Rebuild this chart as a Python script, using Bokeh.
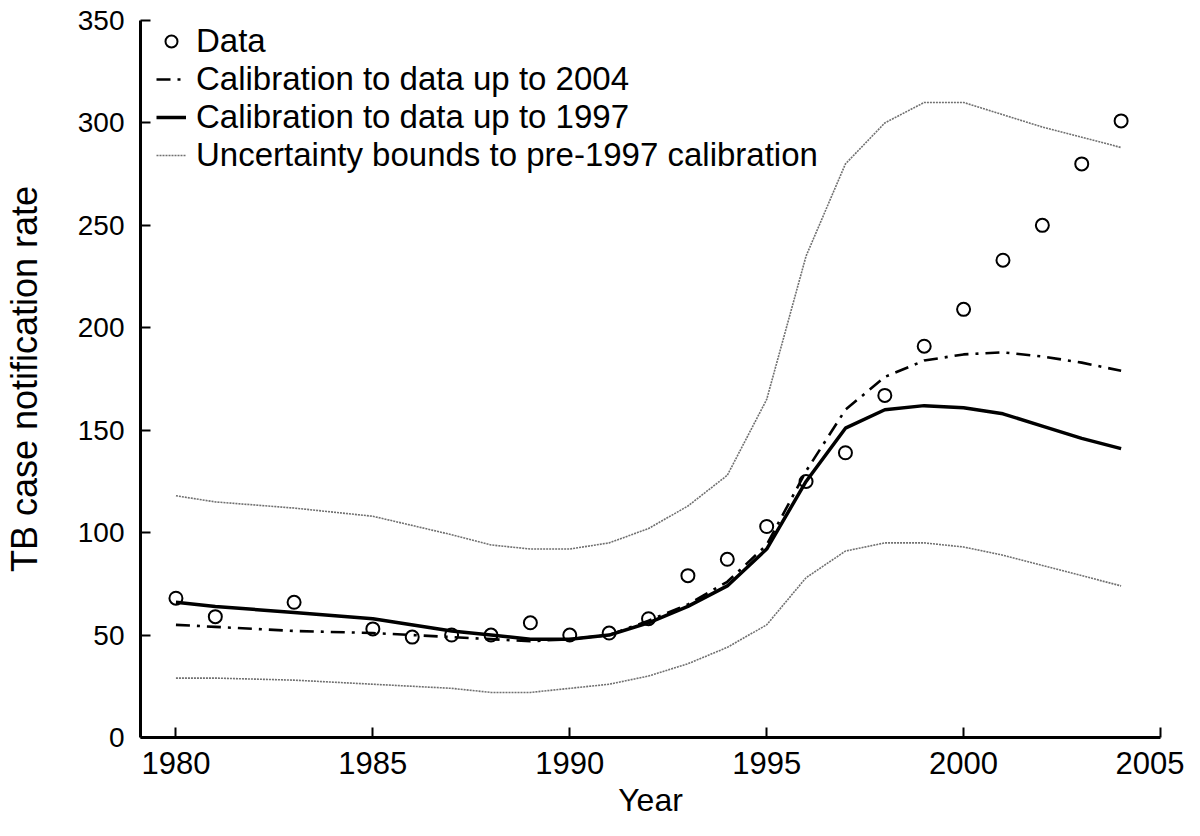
from bokeh.plotting import figure
from bokeh.models import Range1d, Legend, LegendItem, FixedTicker
from bokeh.embed import file_html
from bokeh.resources import INLINE

data_years = [1980, 1981, 1983, 1985, 1986, 1987, 1988, 1989, 1990, 1991, 1992, 1993,
              1994, 1995, 1996, 1997, 1998, 1999, 2000, 2001, 2002, 2003, 2004]
data_values = [68, 59, 66, 53, 49, 50, 50, 56, 50, 51, 58, 79,
               87, 103, 125, 139, 167, 191, 209, 233, 250, 280, 301]

model_years = [1980, 1981, 1983, 1985, 1987, 1988, 1989, 1990, 1991, 1992, 1993,
               1994, 1995, 1996, 1997, 1998, 1999, 2000, 2001, 2002, 2003, 2004]
calib_2004 = [55, 54, 52, 51, 49, 48, 47, 48, 50, 57, 65,
              76, 94, 130, 160, 176, 184, 187, 188, 186, 183, 179]
calib_1997 = [66, 64, 61, 58, 52, 50, 48, 48, 50, 56, 64,
              74, 92, 125, 151, 160, 162, 161, 158, 152, 146, 141]
upper_bound = [118, 115, 112, 108, 99, 94, 92, 92, 95, 102, 113,
               128, 165, 235, 280, 300, 310, 310, 304, 298, 293, 288]
lower_bound = [29, 29, 28, 26, 24, 22, 22, 24, 26, 30, 36,
               44, 55, 78, 91, 95, 95, 93, 89, 84, 79, 74]

x_ticks = [1980, 1985, 1990, 1995, 2000, 2005]
y_ticks = [0, 50, 100, 150, 200, 250, 300, 350]

FONT = "Liberation Sans"

p = figure(width=1184, height=820, output_backend="svg", toolbar_location=None,
           x_range=Range1d(1979.1, 2005.0), y_range=Range1d(0, 350),
           min_border_left=138, min_border_top=20, min_border_right=24, min_border_bottom=80)
p.outline_line_color = None
p.grid.grid_line_color = None
p.background_fill_color = "white"

r_up = p.line(model_years, upper_bound, line_color="#707070", line_width=1.6, line_dash="2 1")
p.line(model_years, lower_bound, line_color="#707070", line_width=1.6, line_dash="2 1")
r_04 = p.line(model_years, calib_2004, line_color="black", line_width=2.6, line_dash="14 7 3 7")
r_97 = p.line(model_years, calib_1997, line_color="black", line_width=3.5)
r_data = p.scatter(data_years, data_values, marker="circle", size=13, fill_color=None,
                   line_color="black", line_width=2)

for ax in (p.xaxis[0], p.yaxis[0]):
    ax.axis_line_width = 3
    ax.axis_line_color = "black"
    ax.major_tick_in = 10
    ax.major_tick_out = 0
    ax.major_tick_line_width = 2
    ax.minor_tick_line_color = None
    ax.major_label_text_font = FONT
    ax.major_label_text_color = "black"
    ax.axis_label_text_font = FONT
    ax.axis_label_text_font_style = "normal"
    ax.axis_label_text_color = "black"

p.xaxis.ticker = FixedTicker(ticks=x_ticks)
p.yaxis.ticker = FixedTicker(ticks=y_ticks)
p.xaxis.axis_label = "Year"
p.yaxis.axis_label = "TB case notification rate"
p.xaxis.major_label_text_font_size = "31px"
p.yaxis.major_label_text_font_size = "28px"
p.xaxis.axis_label_text_font_size = "32px"
p.yaxis.axis_label_text_font_size = "36px"
p.xaxis.major_label_standoff = 14
p.yaxis.major_label_standoff = 16
p.xaxis.axis_label_standoff = 5
p.yaxis.axis_label_standoff = 30

legend = Legend(items=[
    LegendItem(label="Data", renderers=[r_data]),
    LegendItem(label="Calibration to data up to 2004", renderers=[r_04]),
    LegendItem(label="Calibration to data up to 1997", renderers=[r_97]),
    LegendItem(label="Uncertainty bounds to pre-1997 calibration", renderers=[r_up]),
], location=(16, 563))
legend.background_fill_alpha = 0
legend.border_line_color = None
legend.label_text_font = FONT
legend.label_text_font_size = "33px"
legend.label_text_color = "black"
legend.glyph_width = 30
legend.glyph_height = 30
legend.label_height = 33
legend.spacing = 0
legend.label_standoff = 10
legend.margin = 0
legend.padding = 2
p.add_layout(legend, "center")

open("out.html", "w").write(file_html(p, INLINE))
